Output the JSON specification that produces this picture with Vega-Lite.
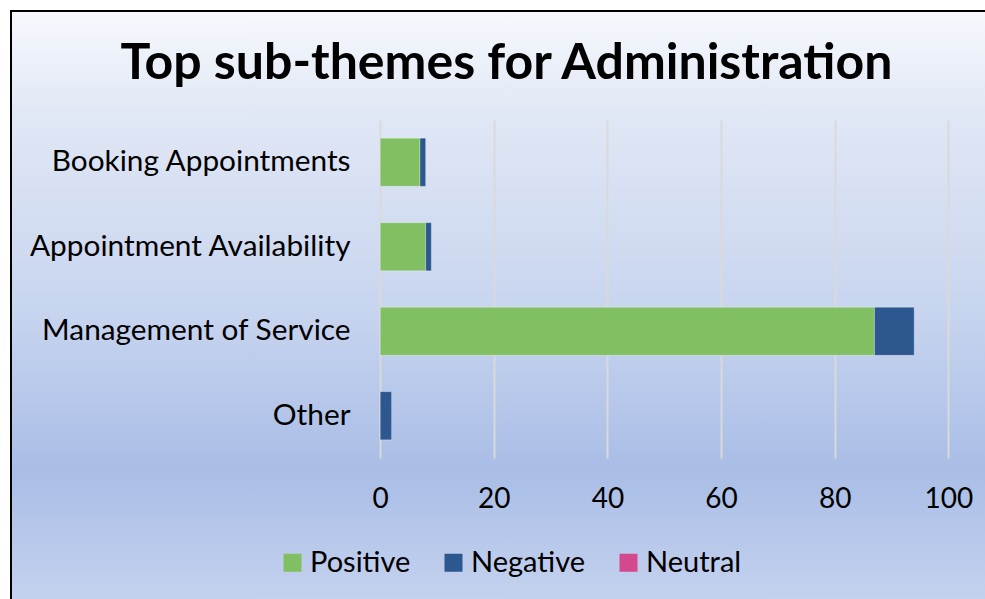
{
  "$schema": "https://vega.github.io/schema/vega-lite/v6.json",
  "width": 985,
  "height": 595,
  "autosize": "none",
  "padding": {"left": 11, "top": 11, "right": 0, "bottom": 0},
  "background": "white",
  "config": {
    "font": "Lato",
    "view": {
      "stroke": "black",
      "strokeWidth": 2,
      "fill": {
        "gradient": "linear",
        "x1": 0, "y1": 0, "x2": 0, "y2": 1,
        "stops": [
          {"offset": 0, "color": "#f6f8fc"},
          {"offset": 0.18, "color": "#e0e7f5"},
          {"offset": 0.5, "color": "#c8d5ef"},
          {"offset": 0.77, "color": "#a9bde6"},
          {"offset": 1, "color": "#c6d3ef"}
        ]
      }
    }
  },
  "title": {
    "text": "Top sub-themes for Administration",
    "fontSize": 50,
    "fontWeight": "bold",
    "font": "Lato",
    "color": "black",
    "offset": -78,
    "dx": 3
  },
  "data": {
    "values": [
      {"theme": "Booking Appointments", "sentiment": "Positive", "count": 7},
      {"theme": "Booking Appointments", "sentiment": "Negative", "count": 1},
      {"theme": "Appointment Availability", "sentiment": "Positive", "count": 8},
      {"theme": "Appointment Availability", "sentiment": "Negative", "count": 1},
      {"theme": "Management of Service", "sentiment": "Positive", "count": 87},
      {"theme": "Management of Service", "sentiment": "Negative", "count": 7},
      {"theme": "Other", "sentiment": "Negative", "count": 2}
    ]
  },
  "mark": {"type": "bar", "stroke": "white", "strokeOpacity": 0.3, "strokeWidth": 1},
  "encoding": {
    "y": {
      "field": "theme",
      "type": "nominal",
      "sort": ["Booking Appointments", "Appointment Availability", "Management of Service", "Other"],
      "scale": {"range": [109, 447], "paddingInner": 0.43, "paddingOuter": 0.215},
      "axis": {
        "title": null,
        "domain": false,
        "ticks": false,
        "offset": -369,
        "labelPadding": 30,
        "labelFontSize": 29.8,
        "labelColor": "black",
        "labelFont": "Lato",
        "labelLimit": 0
      }
    },
    "x": {
      "field": "count",
      "type": "quantitative",
      "stack": "zero",
      "scale": {"domain": [-65, 108.4], "nice": false, "zero": false},
      "axis": {
        "orient": "top",
        "title": null,
        "values": [0, 20, 40, 60, 80, 100],
        "domain": false,
        "ticks": false,
        "offset": -447,
        "labelPadding": -27,
        "labelBaseline": "top",
        "labelFontSize": 28,
        "labelColor": "black",
        "labelFont": "Lato",
        "gridColor": "#d9d9d9",
        "gridWidth": 2
      }
    },
    "color": {
      "field": "sentiment",
      "type": "nominal",
      "scale": {"domain": ["Positive", "Negative", "Neutral"], "range": ["#80c062", "#2d578f", "#d4488d"]},
      "legend": {
        "orient": "none",
        "legendX": 267,
        "legendY": 537,
        "direction": "horizontal",
        "title": null,
        "symbolType": "square",
        "symbolSize": 324,
        "symbolStrokeWidth": 0,
        "symbolOpacity": 1,
        "labelFontSize": 29,
        "labelColor": "black",
        "labelFont": "Lato",
        "labelOffset": 3,
        "columnPadding": 28
      }
    },
    "order": {"field": "sentiment", "sort": "descending"}
  }
}
